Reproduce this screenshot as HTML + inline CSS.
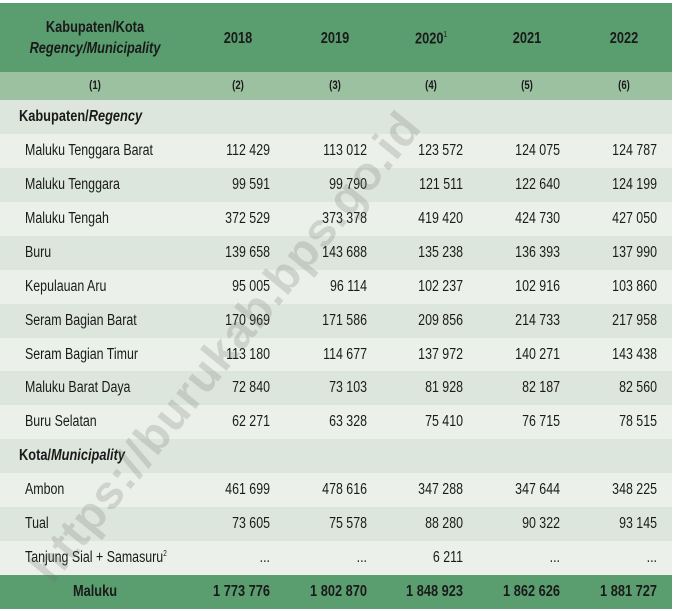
<!DOCTYPE html>
<html><head><meta charset="utf-8">
<style>
body{margin:0;width:675px;height:611px;background:#fff;overflow:hidden;position:relative;font-family:"Liberation Sans Narrow","Liberation Sans",sans-serif;color:#1a1a1a}
.r{position:absolute;left:0;width:672px}
.c{position:absolute;font-size:15.5px;white-space:nowrap;transform:scaleX(0.8);transform-origin:left center}
.num{text-align:right;transform-origin:right center}
.ctr{text-align:center;transform-origin:center center}
.b{font-weight:bold}
#wm{position:absolute;left:58px;top:590px;font-family:"Liberation Sans",sans-serif;font-weight:bold;font-size:47px;line-height:47px;color:rgba(110,110,110,0.22);transform:rotate(-51deg);transform-origin:0 100%;white-space:nowrap;letter-spacing:1px;margin-top:-47px}
</style></head><body>
<div id="tbl"></div>
<div id="wm">https://burukab.bps.go.id</div>
<script>
const years=["2018","2019","2020","2021","2022"];
const colNums=["(2)","(3)","(4)","(5)","(6)"];
const regencies=["Maluku Tenggara Barat","Maluku Tenggara","Maluku Tengah","Buru","Kepulauan Aru","Seram Bagian Barat","Seram Bagian Timur","Maluku Barat Daya","Buru Selatan"];
const regencyValues=[
["112 429","113 012","123 572","124 075","124 787"],
["99 591","99 790","121 511","122 640","124 199"],
["372 529","373 378","419 420","424 730","427 050"],
["139 658","143 688","135 238","136 393","137 990"],
["95 005","96 114","102 237","102 916","103 860"],
["170 969","171 586","209 856","214 733","217 958"],
["113 180","114 677","137 972","140 271","143 438"],
["72 840","73 103","81 928","82 187","82 560"],
["62 271","63 328","75 410","76 715","78 515"]];
const cities=["Ambon","Tual","Tanjung Sial + Samasuru<sup style='font-size:8px'>2</sup>"];
const cityValues=[
["461 699","478 616","347 288","347 644","348 225"],
["73 605","75 578","88 280","90 322","93 145"],
["...","...","6 211","...","..."]];
const totals=["1 773 776","1 802 870","1 848 923","1 862 626","1 881 727"];
const T=document.getElementById('tbl');
const rightEdges=[270,367,463,560,657];
const centers=[238,335,431,527,624];
function row(top,h,bg,name){const d=document.createElement('div');d.className='r';d.style.top=top+'px';d.style.height=h+'px';d.style.background=bg;


T.appendChild(d);return d;}
function cell(p,html,style,name,cls){const s=document.createElement('div');s.className='c '+(cls||'');s.innerHTML=html;Object.assign(s.style,style);


p.appendChild(s);return s;}
let h=row(3,69,'#5a9e70','header-row');
cell(h,'Kabupaten/Kota',{left:'0',width:'190px',top:'16px',fontSize:'16px'},'header-label','b ctr');
cell(h,'<i>Regency/Municipality</i>',{left:'0',width:'190px',top:'37px',fontSize:'16px'},'header-label-en','b ctr');
years.forEach((y,i)=>{cell(h,y+(i==2?"<sup style='font-size:8px;font-weight:normal'>1</sup>":""),{left:(centers[i]-40)+'px',width:'80px',top:'27px',fontSize:'16px'},'year-'+y,'b ctr');});
h=row(72,28,'#9cc1a1','column-number-row');
cell(h,'(1)',{left:'0',width:'190px',top:'6px',fontSize:'12px'},'col-num-1','b ctr');
colNums.forEach((c,i)=>cell(h,c,{left:(centers[i]-30)+'px',width:'60px',top:'6px',fontSize:'12px'},'col-num-'+(i+2),'b ctr'));
const RH=33.93;let idx=0;
const dark='#dce6dc',light='#ebf0ea';
function section(label,name){const r=row(100+idx*RH,RH+0.5,idx%2?light:dark,name);cell(r,label,{left:'19px',top:'8px',fontSize:'16px'},name+'-label','b');idx++;}
function data(label,vals,name){const r=row(100+idx*RH,RH+0.5,idx%2?light:dark,name);cell(r,label,{left:'25px',top:'8px'},name+'-label');
vals.forEach((v,i)=>cell(r,v,{left:(rightEdges[i]-90)+'px',width:'90px',top:'8px'},name+'-'+years[i],'num'));idx++;}
section('Kabupaten/<i>Regency</i>','regency-section');
regencies.forEach((n,i)=>data(n,regencyValues[i],'row-'+n.toLowerCase().replace(/ /g,'-')));
section('Kota/<i>Municipality</i>','municipality-section');
cities.forEach((n,i)=>data(n,cityValues[i],'row-city-'+i));
const tr=row(575,34,'#5a9e70','total-row');
cell(tr,'Maluku',{left:'0',width:'190px',top:'8px',fontSize:'16px'},'total-label','b ctr');
totals.forEach((v,i)=>cell(tr,v,{left:(rightEdges[i]-90)+'px',width:'90px',top:'8px',fontSize:'16px'},'total-'+years[i],'num b'));
</script>
</body></html>
